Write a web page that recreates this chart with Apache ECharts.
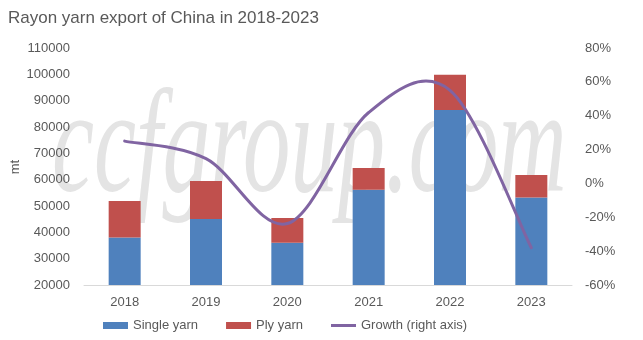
<!DOCTYPE html>
<html><head><meta charset="utf-8">
<script src="https://cdn.jsdelivr.net/npm/echarts@6/dist/echarts.min.js"></script>
<style>html,body{margin:0;padding:0;background:#fff}#c{width:643px;height:340px}</style>
</head><body><div id="c"></div>
<script>
const categories = ['2018','2019','2020','2021','2022','2023'];
const singleYarn = [38000, 45100, 36000, 56200, 86500, 53200];
const plyYarn = [13900, 14400, 9400, 8200, 13300, 8600];
const growth = [25, 14.6, -23.7, 41.9, 55, -38];
const leftTicks = {min: 20000, max: 110000, interval: 10000};
const rightTicks = {min: -60, max: 80, interval: 20};

const txt = '#595959';
const font = 'Liberation Sans';
const purple = '#8064A2';

// Excel-style smoothed line (Catmull-Rom, tension 1/6) through axis coordinates
function renderGrowth(params, api) {
  if (params.dataIndex !== 0) return null;
  const pts = growth.map((v, i) => api.coord([i, v]));
  const n = pts.length;
  const P = i => pts[Math.max(0, Math.min(n - 1, i))];
  let d = 'M' + pts[0][0] + ',' + pts[0][1];
  for (let i = 0; i < n - 1; i++) {
    const p0 = P(i - 1), p1 = P(i), p2 = P(i + 1), p3 = P(i + 2);
    const c1 = [p1[0] + (p2[0] - p0[0]) / 6, p1[1] + (p2[1] - p0[1]) / 6];
    const c2 = [p2[0] - (p3[0] - p1[0]) / 6, p2[1] - (p3[1] - p1[1]) / 6];
    d += ' C' + c1[0] + ',' + c1[1] + ' ' + c2[0] + ',' + c2[1] + ' ' + p2[0] + ',' + p2[1];
  }
  return {type: 'path', shape: {pathData: d},
    style: {fill: 'none', stroke: purple, lineWidth: 3, lineCap: 'round', lineJoin: 'round'}};
}

const chart = echarts.init(document.getElementById('c'), null, {renderer: 'canvas'});
chart.setOption({
  animation: false,
  backgroundColor: '#fff',
  title: {text: 'Rayon yarn export of China in 2018-2023', left: 3, top: 5,
    textStyle: {color: txt, fontSize: 17, fontWeight: 'normal', fontFamily: font}},
  graphic: [
    {type: 'text', left: 52, top: 78, z: -10, scaleX: 0.64,
      style: {text: 'ccfgroup.com', font: 'italic 148px "Liberation Serif"', fill: '#e4e4e4'}},
    {type: 'text', x: 15, y: 167, rotation: Math.PI / 2,
      style: {text: 'mt', font: '13px "Liberation Sans"', fill: txt, align: 'center', verticalAlign: 'middle'}}
  ],
  grid: {left: 84, right: 71, top: 48, bottom: 55, containLabel: false, outerBoundsMode: 'none'},
  legend: {bottom: 3, left: 98, itemWidth: 25, itemHeight: 7, itemGap: 28,
    textStyle: {color: txt, fontSize: 13, fontFamily: font},
    data: [{name: 'Single yarn', icon: 'rect'}, {name: 'Ply yarn', icon: 'rect'},
      {name: 'Growth (right axis)', icon: 'path://M0,0 L25,0 L25,3 L0,3 Z', itemStyle: {color: purple}}]},
  xAxis: {type: 'category', data: categories,
    axisLine: {onZero: false, lineStyle: {color: '#d9d9d9'}}, axisTick: {show: false},
    axisLabel: {color: txt, fontSize: 13, fontFamily: font, margin: 11}},
  yAxis: [
    {type: 'value',
      min: leftTicks.min, max: leftTicks.max, interval: leftTicks.interval,
      splitLine: {show: false}, axisLine: {show: false}, axisTick: {show: false},
      axisLabel: {color: txt, fontSize: 13, fontFamily: font, margin: 14, formatter: v => String(v)}},
    {type: 'value', min: rightTicks.min, max: rightTicks.max, interval: rightTicks.interval,
      splitLine: {show: false}, axisLine: {show: false}, axisTick: {show: false},
      axisLabel: {color: txt, fontSize: 13, fontFamily: font, margin: 13, formatter: '{value}%'}}
  ],
  series: [
    {name: 'Single yarn', type: 'bar', stack: 'a', barWidth: 32, data: singleYarn, itemStyle: {color: '#4F81BD'}},
    {name: 'Ply yarn', type: 'bar', stack: 'a', barWidth: 32, data: plyYarn, itemStyle: {color: '#C0504D'}},
    {name: 'Growth (right axis)', type: 'custom', yAxisIndex: 1, renderItem: renderGrowth,
      data: growth.map((v, i) => [i, v]), itemStyle: {color: purple}, z: 5, clip: false}
  ]
});
</script></body></html>
